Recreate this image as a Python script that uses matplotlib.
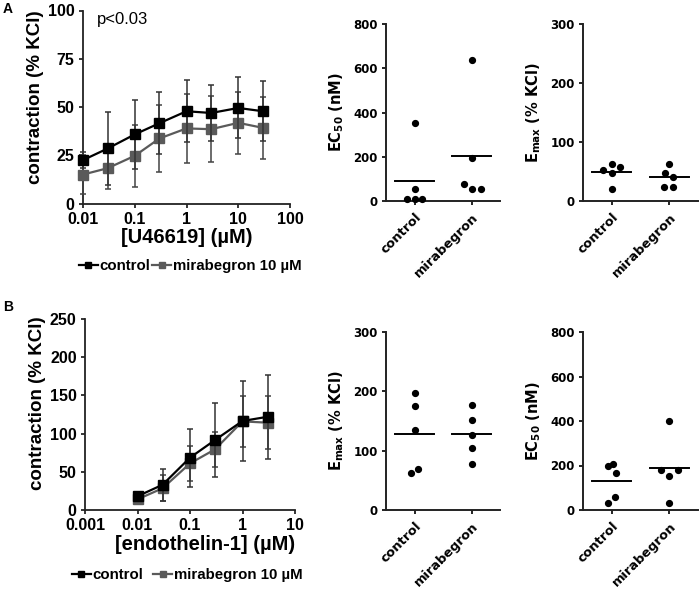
import matplotlib
matplotlib.use('Agg')
import matplotlib.pyplot as plt
from matplotlib.lines import Line2D
import numpy as np

plt.rcParams['font.family'] = ['Liberation Sans', 'DejaVu Sans']

# concentration-response data (mean, SD)
u_conc = [0.01, 0.03, 0.1, 0.3, 1, 3, 10, 30]
u_ctrl = [22.5, 28.5, 35.8, 41.6, 47.8, 46.9, 49.5, 47.8]
u_ctrl_sd = [4, 19, 17.8, 16.2, 16, 14.5, 15.8, 15.5]
u_mira = [15, 18.3, 24.7, 33.7, 38.9, 38.5, 41.8, 39.2]
u_mira_sd = [10, 11, 16, 17.2, 18, 17, 16, 16]

et_conc = [0.01, 0.03, 0.1, 0.3, 1, 3]
et_ctrl = [18, 33, 68.5, 91.6, 116.5, 122]
et_ctrl_sd = [4, 21, 38, 48, 53, 55]
et_mira = [14, 28.4, 61, 79.4, 116, 114.3]
et_mira_sd = [4, 17, 23, 23, 33, 35]

# individual values
groups = ['control', 'mirabegron']
a_ec50_ctrl = [352, 56, 11, 11, 11]
a_ec50_mira = [637, 196, 75, 56, 56]
a_emax_ctrl = [63, 57, 53, 48, 21]
a_emax_mira = [63, 48, 41, 24, 24]
b_emax_ctrl = [198, 175, 135, 69, 62]
b_emax_mira = [177, 151, 127, 105, 77]
b_ec50_ctrl = [206, 200, 165, 57, 30]
b_ec50_mira = [401, 179, 179, 153, 30]

# horizontal spread of overlapping dots (layout only)
a_ec50_off = ([0, 0, -0.14, 0, 0.14], [0, 0, -0.14, 0, 0.17])
a_emax_off = ([0, 0.15, -0.15, 0, 0], [0, -0.07, 0.07, -0.09, 0.06])
b_emax_off = ([0, 0, 0, 0.06, -0.07], [0, 0, 0, 0, 0])
b_ec50_off = ([0.03, -0.06, 0.07, 0.06, -0.07], [0, -0.15, 0.15, 0, 0])

W, H = 699, 595
fig = plt.figure(figsize=(W / 100, H / 100), dpi=100)
fig.patch.set_facecolor('white')

SPINE = '#222222'
GREY = '#5a5a5a'


def px_axes(x0, x1, ytop, ybot):
    return fig.add_axes([x0 / W, 1 - ybot / H, (x1 - x0) / W, (ybot - ytop) / H])


def style_spines(ax, lw=1.3):
    for s in ['top', 'right']:
        ax.spines[s].set_visible(False)
    for s in ['left', 'bottom']:
        ax.spines[s].set_linewidth(lw)
        ax.spines[s].set_color(SPINE)


def curve_panel(ax, conc, ctrl, ctrl_sd, mira, mira_sd, xlim, ylim, yticks, xlabel):
    ax.errorbar(conc, mira, yerr=mira_sd, color=GREY, marker='s', markersize=7,
                lw=1.6, elinewidth=1.1, ecolor='#444444', capsize=2.5, capthick=1.1,
                clip_on=False, zorder=3)
    ax.errorbar(conc, ctrl, yerr=ctrl_sd, color='black', marker='s', markersize=7,
                lw=1.6, elinewidth=1.1, ecolor='#333333', capsize=2.5, capthick=1.1,
                clip_on=False, zorder=4)
    ax.set_xscale('log')
    ax.set_xlim(*xlim)
    ax.set_ylim(*ylim)
    ax.set_yticks(yticks)
    ax.xaxis.set_minor_locator(matplotlib.ticker.NullLocator())
    ax.xaxis.set_major_formatter(matplotlib.ticker.FuncFormatter(lambda v, p: f'{v:g}'))
    style_spines(ax)
    ax.tick_params(direction='out', length=3, width=1.1, labelsize=11.5, pad=3)
    for lab in ax.get_xticklabels() + ax.get_yticklabels():
        lab.set_fontweight('bold')
    ax.set_ylabel('contraction (% KCl)', fontsize=13.5, fontweight='bold', labelpad=3)
    ax.set_xlabel(xlabel, fontsize=14.5, fontweight='bold', labelpad=1)


def dot_panel(ax, ctrl, mira, offs, ylim, yticks, ylabel):
    for i, (vals, off) in enumerate(zip([ctrl, mira], offs)):
        xs = [i + o for o in off]
        ax.plot(xs, vals, 'o', color='black', markersize=4.2, clip_on=False, zorder=3)
        m = np.mean(vals)
        ax.plot([i - 0.34, i + 0.34], [m, m], color='black', lw=1.4, zorder=2)
    ax.set_xlim(-0.5, 1.5)
    ax.set_ylim(*ylim)
    ax.set_yticks(yticks)
    ax.set_xticks([0, 1])
    ax.set_xticklabels(groups, rotation=45, ha='right', rotation_mode='anchor')
    style_spines(ax, 1.4)
    ax.tick_params(direction='out', length=3, width=1.2, labelsize=8.5, pad=3)
    ax.tick_params(axis='x', labelsize=9.3, pad=4)
    for lab in ax.get_xticklabels() + ax.get_yticklabels():
        lab.set_fontweight('bold')
        lab.set_family('DejaVu Sans')
    ax.set_ylabel(ylabel, fontsize=10.5, fontweight='bold', family='DejaVu Sans', labelpad=5)


EC50_LABEL = r'EC$_{\mathbf{50}}$ (nM)'
EMAX_LABEL = r'E$_{\mathbf{max}}$ (% KCl)'

# ---- panel A ----
axA = px_axes(83, 290, 10.5, 203.5)
curve_panel(axA, u_conc, u_ctrl, u_ctrl_sd, u_mira, u_mira_sd,
            (0.01, 100), (0, 100), [0, 25, 50, 75, 100], '[U46619] (µM)')
axA.yaxis.label.set_y(0.55)
axA.text(0.068, 0.955, 'p<0.03', transform=axA.transAxes, fontsize=12, va='center')

axA2 = px_axes(386, 500, 24, 201)
dot_panel(axA2, a_ec50_ctrl, a_ec50_mira, a_ec50_off, (0, 800), [0, 200, 400, 600, 800], EC50_LABEL)
axA3 = px_axes(583, 698, 24, 201)
dot_panel(axA3, a_emax_ctrl, a_emax_mira, a_emax_off, (0, 300), [0, 100, 200, 300], EMAX_LABEL)

# ---- panel B ----
axB = px_axes(85, 295, 319, 510)
curve_panel(axB, et_conc, et_ctrl, et_ctrl_sd, et_mira, et_mira_sd,
            (0.001, 10), (0, 250), [0, 50, 100, 150, 200, 250], '[endothelin-1] (µM)')
axB.yaxis.label.set_y(0.56)
axB.xaxis.label.set_x(0.57)

axB2 = px_axes(386, 500, 332, 510)
dot_panel(axB2, b_emax_ctrl, b_emax_mira, b_emax_off, (0, 300), [0, 100, 200, 300], EMAX_LABEL)
axB3 = px_axes(583, 698, 332, 510)
dot_panel(axB3, b_ec50_ctrl, b_ec50_mira, b_ec50_off, (0, 800), [0, 200, 400, 600, 800], EC50_LABEL)

# legends
handles = [Line2D([], [], color='black', marker='s', markersize=5, lw=1.6),
           Line2D([], [], color=GREY, marker='s', markersize=5, lw=1.6)]
labels = ['control', 'mirabegron 10 µM']
for xleft, ycen, colsp in [(79, 266, 0.12), (72, 575, 0.65)]:
    fig.legend(handles, labels, loc='center left', bbox_to_anchor=(xleft / W, 1 - ycen / H),
               ncol=2, frameon=False, handlelength=1.25, handletextpad=0.12,
               columnspacing=colsp, borderaxespad=0, borderpad=0,
               prop={'weight': 'bold', 'size': 10.8})

fig.text(3 / W, 1 - 2 / H, 'A', fontsize=10, fontweight='bold', va='top')
fig.text(3 / W, 1 - 300 / H, 'B', fontsize=10, fontweight='bold', va='top')

fig.savefig('out.png', dpi=100, facecolor='white')
